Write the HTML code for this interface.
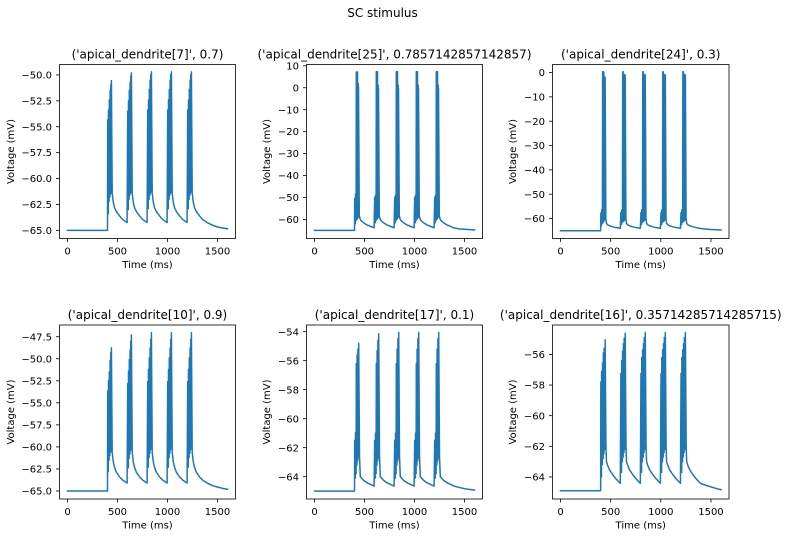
<!DOCTYPE html>
<html lang="en">
<head>
<meta charset="utf-8">
<title>SC stimulus</title>
<style>
html,body{margin:0;padding:0;background:#fff;}
svg{display:block;}
text{font-family:"DejaVu Sans","Liberation Sans",sans-serif;fill:#000;}
</style>
</head>
<body>
<svg id="figure" xmlns="http://www.w3.org/2000/svg" width="788" height="537" viewBox="0 0 788 537">
<rect x="0" y="0" width="788" height="537" fill="#fff"/>
<text x="382.5" y="17" font-size="12" text-anchor="middle">SC stimulus</text>
</svg>
<script>
// ---- shared data ----
const burstStarts = [400, 600, 800, 1000, 1200];
const decayOffsets = [58, 70, 90, 120, 150, 196];
const tailTimes = [1450, 1500, 1550, 1600];
const xTicks = [0, 500, 1000, 1500];
const xDomain = [-80, 1680];

// ---- panel 1: apical_dendrite[7], 0.7 ----
const p1Title = "('apical_dendrite[7]', 0.7)";
const p1YTicks = [-50, -52.5, -55, -57.5, -60, -62.5, -65];
const p1YDomain = [-65.79, -48.99];
const p1Rest = -65;
const p1SpikeOffsets = [2,6,10,14,18,22,26,30,33,36,39,47];
const p1Bursts = [
 [-54.35,-63.4,-53.4,-62.2,-52.4,-61.8,-51.5,-61.5,-50.95,-61.3,-50.55,-61.4,-62.3,-62.8,-63.2,-63.6,-63.95,-64.25],
 [-53.5,-63.0,-52.5,-62.0,-51.5,-61.6,-50.7,-61.4,-50.1,-61.2,-49.8,-61.4,-62.3,-62.8,-63.2,-63.6,-63.95,-64.25],
 [-53.4,-62.9,-52.4,-62.0,-51.4,-61.6,-50.5,-61.4,-49.95,-61.2,-49.7,-61.4,-62.3,-62.8,-63.2,-63.6,-63.95,-64.25],
 [-53.4,-62.9,-52.4,-62.0,-51.4,-61.6,-50.5,-61.4,-49.95,-61.2,-49.7,-61.4,-62.3,-62.8,-63.2,-63.6,-63.95,-64.25],
 [-53.4,-62.9,-52.4,-62.0,-51.4,-61.6,-50.5,-61.4,-49.95,-61.2,-49.7,-61.4,-62.3,-62.8,-63.2,-63.6,-63.95,-64.25]
];
const p1Tail = [-64.5,-64.68,-64.78,-64.85];

// ---- panel 2: apical_dendrite[25], 0.7857 ----
const p2Title = "('apical_dendrite[25]', 0.7857142857142857)";
const p2YTicks = [10, 0, -10, -20, -30, -40, -50, -60];
const p2YDomain = [-68.7, 10.6];
const p2Rest = -65;
const p2SpikeOffsets = [2,6,10,14,18,22,26,30,34,37,40,48];
const p2Bursts = [
 [-50.4,-62,-48.5,-60.5,7.2,-60,7.2,-59.5,2,-59,0.5,-58.5,-60,-60.8,-61.5,-62.4,-63,-63.8],
 [-50,-61.5,-49,-60.5,7.3,-60,7.3,-59.5,1.2,-59,-0.3,-58.5,-60,-60.8,-61.5,-62.4,-63,-63.8],
 [-50,-61.5,-49,-60.5,7.3,-60,7.3,-59.5,1.2,-59,-0.3,-58.5,-60,-60.8,-61.5,-62.4,-63,-63.8],
 [-50,-61.5,-49,-60.5,7.3,-60,7.3,-59.5,1.2,-59,-0.3,-58.5,-60,-60.8,-61.5,-62.4,-63,-63.8],
 [-50,-61.5,-49,-60.5,7.3,-60,7.3,-59.5,1.2,-59,-0.3,-58.5,-60,-60.8,-61.5,-62.4,-63,-63.9]
];
const p2Tail = [-64.3,-64.5,-64.65,-64.8];

// ---- panel 3: apical_dendrite[24], 0.3 ----
const p3Title = "('apical_dendrite[24]', 0.3)";
const p3YTicks = [0, -10, -20, -30, -40, -50, -60];
const p3YDomain = [-68.2, 3.3];
const p3Rest = -65;
const p3SpikeOffsets = [2,6,10,14,20,24,28,32,36,40,45,52];
const p3Bursts = [
 [-57.7,-63,-56.5,-62,0.3,-61.5,0.2,-61,-1.8,-60.5,-2.1,-60,-62,-62.6,-63,-63.4,-63.7,-64],
 [-57.5,-62.5,-56.5,-61.5,0.3,-61.2,-2,-61,-0.8,-60.5,-1.2,-60,-62,-62.6,-63,-63.4,-63.7,-64],
 [-57.5,-62.5,-56.5,-61.5,0.3,-61.2,-2,-61,-0.8,-60.5,-1.2,-60,-62,-62.6,-63,-63.4,-63.7,-64],
 [-57.5,-62.5,-56.5,-61.5,0.3,-61.2,-2,-61,-0.8,-60.5,-1.2,-60,-62,-62.6,-63,-63.4,-63.7,-64],
 [-57.5,-62.5,-56.5,-61.5,0.3,-61.2,-2,-61,-0.8,-60.5,-1.2,-60,-62,-62.6,-63,-63.4,-63.7,-64.1]
];
const p3Tail = [-64.35,-64.5,-64.6,-64.7];

// ---- panel 4: apical_dendrite[10], 0.9 ----
const p4Title = "('apical_dendrite[10]', 0.9)";
const p4YTicks = [-47.5, -50, -52.5, -55, -57.5, -60, -62.5, -65];
const p4YDomain = [-65.91, -46.17];
const p4Rest = -65;
const p4SpikeOffsets = [2,6,10,14,18,22,26,30,33,36,39,47];
const p4Bursts = [
 [-53.66,-62.8,-52.5,-61.5,-51.5,-61,-50.2,-60.6,-49.3,-60.3,-48.75,-60.6,-61.7,-62.3,-62.9,-63.4,-63.75,-64.1],
 [-52.8,-62.4,-51.4,-61.3,-50.1,-60.8,-49,-60.4,-48,-60.1,-47.3,-60.6,-61.7,-62.3,-62.9,-63.4,-63.75,-64.1],
 [-52.6,-62.3,-51.2,-61.2,-49.9,-60.7,-48.8,-60.3,-47.8,-60,-47.05,-60.6,-61.7,-62.3,-62.9,-63.4,-63.75,-64.1],
 [-52.6,-62.3,-51.2,-61.2,-49.9,-60.7,-48.8,-60.3,-47.8,-60,-47.05,-60.6,-61.7,-62.3,-62.9,-63.4,-63.75,-64.1],
 [-52.6,-62.3,-51.2,-61.2,-49.9,-60.7,-48.8,-60.3,-47.8,-60,-47.05,-60.6,-61.7,-62.3,-62.9,-63.4,-63.75,-64.1]
];
const p4Tail = [-64.4,-64.55,-64.7,-64.8];

// ---- panel 5: apical_dendrite[17], 0.1 ----
const p5Title = "('apical_dendrite[17]', 0.1)";
const p5YTicks = [-54, -56, -58, -60, -62, -64];
const p5YDomain = [-65.54, -53.54];
const p5Rest = -65;
const p5SpikeOffsets = [2,6,10,14,18,22,26,30,34,38,42,50];
const p5Bursts = [
 [-61.5,-64.1,-60.95,-63.8,-56.2,-63.2,-55.6,-62.9,-55.2,-62.7,-54.8,-62.6,-64,-64.1,-64.25,-64.4,-64.5,-64.65],
 [-61.5,-64.1,-61,-63.8,-56.2,-63.2,-55.3,-62.9,-54.6,-62.7,-54.15,-62.6,-64,-64.1,-64.25,-64.4,-64.5,-64.65],
 [-61.5,-64.1,-61,-63.8,-56.2,-63.2,-55.2,-62.9,-54.5,-62.7,-54.05,-62.6,-64,-64.1,-64.25,-64.4,-64.5,-64.65],
 [-61.5,-64.1,-61,-63.8,-56.2,-63.2,-55.2,-62.9,-54.5,-62.7,-54.05,-62.6,-64,-64.1,-64.25,-64.4,-64.5,-64.65],
 [-61.5,-64.1,-61,-63.8,-56.2,-63.2,-55.2,-62.9,-54.5,-62.7,-54.05,-62.6,-64,-64.1,-64.25,-64.4,-64.5,-64.65]
];
const p5Tail = [-64.75,-64.83,-64.88,-64.92];

// ---- panel 6: apical_dendrite[16], 0.3571 ----
const p6Title = "('apical_dendrite[16]', 0.35714285714285715)";
const p6YTicks = [-56, -58, -60, -62, -64];
const p6YDomain = [-65.44, -54.08];
const p6Rest = -64.9;
const p6SpikeOffsets = [2,6,10,14,19,23,27,31,35,39,45,53];
const p6Bursts = [
 [-57.8,-64,-57.1,-63.2,-56.55,-62.8,-55.9,-62.5,-55.6,-62.2,-55.05,-62,-63,-63.25,-63.55,-63.85,-64.1,-64.42],
 [-57.25,-63.7,-56.4,-63,-55.8,-62.7,-55.3,-62.4,-54.95,-62.2,-54.63,-62,-63,-63.25,-63.55,-63.85,-64.1,-64.42],
 [-57.25,-63.7,-56.2,-63,-55.7,-62.7,-55.3,-62.4,-54.9,-62.2,-54.57,-62,-63,-63.25,-63.55,-63.85,-64.1,-64.42],
 [-57.25,-63.7,-56.2,-63,-55.7,-62.7,-55.3,-62.4,-54.9,-62.2,-54.57,-62,-63,-63.25,-63.55,-63.85,-64.1,-64.42],
 [-57.25,-63.7,-56.2,-63,-55.7,-62.7,-55.3,-62.4,-54.9,-62.2,-54.57,-62,-63,-63.25,-63.55,-63.85,-64.1,-64.42]
];
const p6Tail = [-64.55,-64.65,-64.75,-64.83];

// ---- assemble ----
const panels = [
 {title:p1Title, ticks:p1YTicks, dom:p1YDomain, rest:p1Rest, off:p1SpikeOffsets, bursts:p1Bursts, tail:p1Tail, dec:1, col:0, row:0},
 {title:p2Title, ticks:p2YTicks, dom:p2YDomain, rest:p2Rest, off:p2SpikeOffsets, bursts:p2Bursts, tail:p2Tail, dec:0, col:1, row:0},
 {title:p3Title, ticks:p3YTicks, dom:p3YDomain, rest:p3Rest, off:p3SpikeOffsets, bursts:p3Bursts, tail:p3Tail, dec:0, col:2, row:0},
 {title:p4Title, ticks:p4YTicks, dom:p4YDomain, rest:p4Rest, off:p4SpikeOffsets, bursts:p4Bursts, tail:p4Tail, dec:1, col:0, row:1},
 {title:p5Title, ticks:p5YTicks, dom:p5YDomain, rest:p5Rest, off:p5SpikeOffsets, bursts:p5Bursts, tail:p5Tail, dec:0, col:1, row:1},
 {title:p6Title, ticks:p6YTicks, dom:p6YDomain, rest:p6Rest, off:p6SpikeOffsets, bursts:p6Bursts, tail:p6Tail, dec:0, col:2, row:1}
];

const NS = 'http://www.w3.org/2000/svg';
const fig = document.getElementById('figure');
const colLeft = [59.5, 306.5, 552.5];
const colRight = [235.5, 482.5, 729];
const colLabelX = [14, 270, 516];
const rowTop = [64.5, 325];
const rowBottom = [238.5, 499];

function mk(tag, parent, attrs) {
  const el = document.createElementNS(NS, tag);
  for (const k in attrs) el.setAttribute(k, attrs[k]);
  parent.appendChild(el);
  return el;
}
function fmt(v, dec) {
  return v.toFixed(dec).replace('-', '\u2212');
}

panels.forEach(function (p, i) {
  const L = colLeft[p.col], R = colRight[p.col], T = rowTop[p.row], B = rowBottom[p.row];
  const xScale = function (t) { return L + (t - xDomain[0]) / (xDomain[1] - xDomain[0]) * (R - L); };
  const yScale = function (v) { return B - (v - p.dom[0]) / (p.dom[1] - p.dom[0]) * (B - T); };

  const g = mk('g', fig, {});
  
  

  // trace points: each spike level is swept several times so the burst renders solid
  const pts = [[0, p.rest], [burstStarts[0], p.rest]];
  const nSpikeVals = p.off.length;
  p.bursts.forEach(function (row, b) {
    const start = burstStarts[b];
    for (let s = 0; s < nSpikeVals; s += 2) {
      const t0 = p.off[s], t1 = p.off[s + 1], peak = row[s], trough = row[s + 1];
      if (s + 2 < nSpikeVals) {
        const step = (p.off[s + 2] - t0) / 4;
        for (let q = 0; q < 2; q++) {
          pts.push([start + t0 + q * 2 * step, peak]);
          pts.push([start + t0 + (q * 2 + 1) * step, trough]);
        }
      } else {
        pts.push([start + t0, peak]);
        pts.push([start + t1, trough]);
      }
    }
    decayOffsets.forEach(function (d, j) { pts.push([start + d, row[nSpikeVals + j]]); });
  });
  p.tail.forEach(function (v, j) { pts.push([tailTimes[j], v]); });

  const line = mk('polyline', g, {
    points: pts.map(function (q) { return xScale(q[0]).toFixed(2) + ',' + yScale(q[1]).toFixed(2); }).join(' '),
    fill: 'none', stroke: '#1f77b4', 'stroke-width': 1.5, 'stroke-linejoin': 'round', 'stroke-linecap': 'square'
  });
  
  

  // frame
  const frame = mk('rect', g, { x: L, y: T, width: R - L, height: B - T, fill: 'none', stroke: '#000', 'stroke-width': 0.8 });
  
  

  // x ticks
  xTicks.forEach(function (t) {
    const x = xScale(t);
    const tick = mk('line', g, { x1: x, x2: x, y1: B, y2: B + 3.5, stroke: '#000', 'stroke-width': 0.8 });
    
    
    const lab = mk('text', g, { x: x, y: B + 16, 'font-size': 10, 'text-anchor': 'middle' });
    lab.textContent = String(t);
    
    
  });

  // y ticks
  p.ticks.forEach(function (v) {
    const y = yScale(v);
    const tick = mk('line', g, { x1: L - 3.5, x2: L, y1: y, y2: y, stroke: '#000', 'stroke-width': 0.8 });
    
    
    const lab = mk('text', g, { x: L - 7.5, y: y + 3.6, 'font-size': 10, 'text-anchor': 'end' });
    lab.textContent = fmt(v, p.dec);
    
    
  });

  // labels
  const xl = mk('text', g, { x: (L + R) / 2, y: B + 29.5, 'font-size': 10, 'text-anchor': 'middle' });
  xl.textContent = 'Time (ms)';
  
  

  const lx = colLabelX[p.col], ly = (T + B) / 2;
  const yl = mk('text', g, { x: lx, y: ly, 'font-size': 10, 'text-anchor': 'middle', transform: 'rotate(-90 ' + lx + ' ' + ly + ')' });
  yl.textContent = 'Voltage (mV)';
  
  

  const ti = mk('text', g, { x: (L + R) / 2, y: T - 6, 'font-size': 12, 'text-anchor': 'middle' });
  ti.textContent = p.title;
  
  
});
</script>
</body>
</html>
